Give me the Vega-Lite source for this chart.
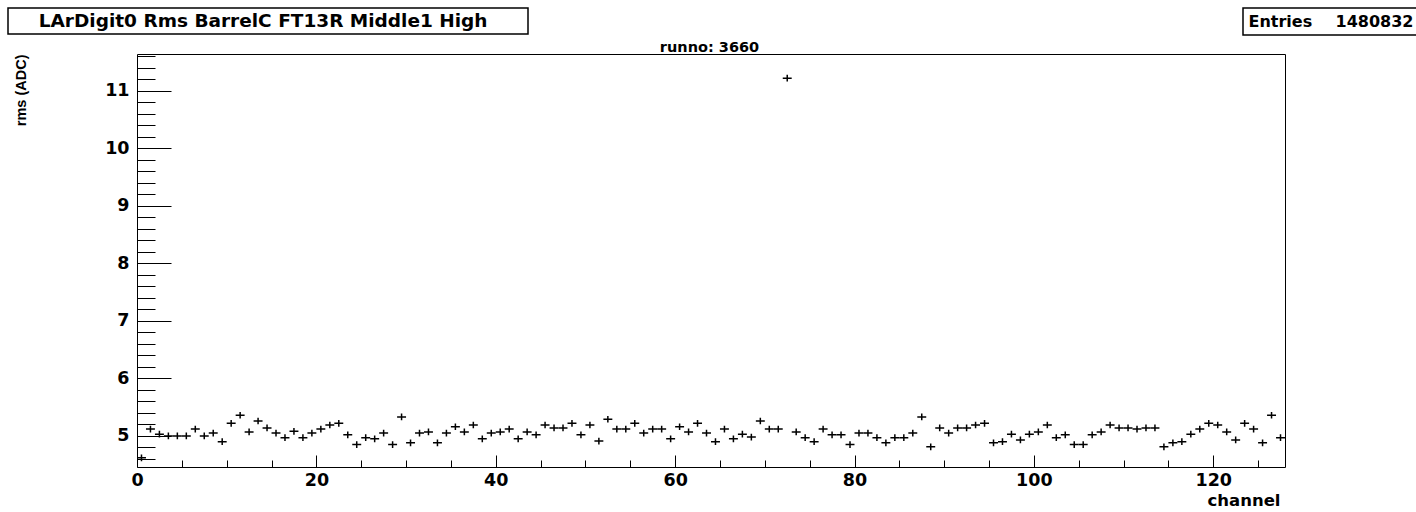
{
  "$schema": "https://vega.github.io/schema/vega-lite/v6.json",
  "width": 1148,
  "height": 413,
  "autosize": {"type": "none"},
  "padding": {"left": 137, "top": 54, "right": 131, "bottom": 45},
  "background": "white",
  "config": {
    "view": {"stroke": "black", "strokeWidth": 1},
    "font": "DejaVu Sans",
    "axis": {
      "domain": false,
      "grid": false,
      "tickColor": "black",
      "tickWidth": 1,
      "labelColor": "black",
      "titleColor": "black",
      "labelFont": "DejaVu Sans",
      "titleFont": "DejaVu Sans",
      "labelFontWeight": "bold",
      "titleFontWeight": "bold"
    },
    "legend": {"strokeWidth": 1.5}
  },
  "datasets": {
    "hist": [
      {"channel": 0, "rms": 4.62}, {"channel": 1, "rms": 5.12}, {"channel": 2, "rms": 5.03}, {"channel": 3, "rms": 5.0},
      {"channel": 4, "rms": 5.0}, {"channel": 5, "rms": 5.0}, {"channel": 6, "rms": 5.12}, {"channel": 7, "rms": 5.0},
      {"channel": 8, "rms": 5.05}, {"channel": 9, "rms": 4.9}, {"channel": 10, "rms": 5.22}, {"channel": 11, "rms": 5.36},
      {"channel": 12, "rms": 5.07}, {"channel": 13, "rms": 5.26}, {"channel": 14, "rms": 5.14}, {"channel": 15, "rms": 5.05},
      {"channel": 16, "rms": 4.97}, {"channel": 17, "rms": 5.08}, {"channel": 18, "rms": 4.97}, {"channel": 19, "rms": 5.05},
      {"channel": 20, "rms": 5.12}, {"channel": 21, "rms": 5.19}, {"channel": 22, "rms": 5.22}, {"channel": 23, "rms": 5.02},
      {"channel": 24, "rms": 4.85}, {"channel": 25, "rms": 4.97}, {"channel": 26, "rms": 4.95}, {"channel": 27, "rms": 5.05},
      {"channel": 28, "rms": 4.85}, {"channel": 29, "rms": 5.33}, {"channel": 30, "rms": 4.88}, {"channel": 31, "rms": 5.05},
      {"channel": 32, "rms": 5.07}, {"channel": 33, "rms": 4.88}, {"channel": 34, "rms": 5.05}, {"channel": 35, "rms": 5.16},
      {"channel": 36, "rms": 5.07}, {"channel": 37, "rms": 5.19}, {"channel": 38, "rms": 4.95}, {"channel": 39, "rms": 5.05},
      {"channel": 40, "rms": 5.07}, {"channel": 41, "rms": 5.12}, {"channel": 42, "rms": 4.95}, {"channel": 43, "rms": 5.07},
      {"channel": 44, "rms": 5.02}, {"channel": 45, "rms": 5.19}, {"channel": 46, "rms": 5.14}, {"channel": 47, "rms": 5.14},
      {"channel": 48, "rms": 5.22}, {"channel": 49, "rms": 5.02}, {"channel": 50, "rms": 5.19}, {"channel": 51, "rms": 4.91},
      {"channel": 52, "rms": 5.29}, {"channel": 53, "rms": 5.12}, {"channel": 54, "rms": 5.12}, {"channel": 55, "rms": 5.22},
      {"channel": 56, "rms": 5.05}, {"channel": 57, "rms": 5.12}, {"channel": 58, "rms": 5.12}, {"channel": 59, "rms": 4.95},
      {"channel": 60, "rms": 5.16}, {"channel": 61, "rms": 5.07}, {"channel": 62, "rms": 5.22}, {"channel": 63, "rms": 5.05},
      {"channel": 64, "rms": 4.9}, {"channel": 65, "rms": 5.12}, {"channel": 66, "rms": 4.95}, {"channel": 67, "rms": 5.03},
      {"channel": 68, "rms": 4.98}, {"channel": 69, "rms": 5.26}, {"channel": 70, "rms": 5.12}, {"channel": 71, "rms": 5.12},
      {"channel": 72, "rms": 11.22}, {"channel": 73, "rms": 5.07}, {"channel": 74, "rms": 4.97}, {"channel": 75, "rms": 4.9},
      {"channel": 76, "rms": 5.12}, {"channel": 77, "rms": 5.02}, {"channel": 78, "rms": 5.02}, {"channel": 79, "rms": 4.85},
      {"channel": 80, "rms": 5.05}, {"channel": 81, "rms": 5.05}, {"channel": 82, "rms": 4.97}, {"channel": 83, "rms": 4.88},
      {"channel": 84, "rms": 4.97}, {"channel": 85, "rms": 4.97}, {"channel": 86, "rms": 5.05}, {"channel": 87, "rms": 5.33},
      {"channel": 88, "rms": 4.81}, {"channel": 89, "rms": 5.14}, {"channel": 90, "rms": 5.05}, {"channel": 91, "rms": 5.14},
      {"channel": 92, "rms": 5.14}, {"channel": 93, "rms": 5.19}, {"channel": 94, "rms": 5.22}, {"channel": 95, "rms": 4.88},
      {"channel": 96, "rms": 4.9}, {"channel": 97, "rms": 5.03}, {"channel": 98, "rms": 4.93}, {"channel": 99, "rms": 5.03},
      {"channel": 100, "rms": 5.07}, {"channel": 101, "rms": 5.19}, {"channel": 102, "rms": 4.97}, {"channel": 103, "rms": 5.02},
      {"channel": 104, "rms": 4.85}, {"channel": 105, "rms": 4.85}, {"channel": 106, "rms": 5.02}, {"channel": 107, "rms": 5.07},
      {"channel": 108, "rms": 5.19}, {"channel": 109, "rms": 5.14}, {"channel": 110, "rms": 5.14}, {"channel": 111, "rms": 5.12},
      {"channel": 112, "rms": 5.14}, {"channel": 113, "rms": 5.14}, {"channel": 114, "rms": 4.81}, {"channel": 115, "rms": 4.88},
      {"channel": 116, "rms": 4.9}, {"channel": 117, "rms": 5.03}, {"channel": 118, "rms": 5.12}, {"channel": 119, "rms": 5.22},
      {"channel": 120, "rms": 5.19}, {"channel": 121, "rms": 5.07}, {"channel": 122, "rms": 4.93}, {"channel": 123, "rms": 5.22},
      {"channel": 124, "rms": 5.12}, {"channel": 125, "rms": 4.88}, {"channel": 126, "rms": 5.36}, {"channel": 127, "rms": 4.97}
    ],
    "info": [
      {"histogram": "LArDigit0 Rms BarrelC FT13R Middle1 High", "entries": 1480832}
    ]
  },
  "layer": [
    {
      "data": {"name": "hist"},
      "mark": {
        "type": "point",
        "shape": "M-1,0L1,0M0,-0.75L0,0.75",
        "size": 80,
        "filled": false,
        "stroke": "black",
        "strokeWidth": 1.5,
        "opacity": 1,
        "xOffset": 4.48
      },
      "encoding": {
        "x": {
          "field": "channel",
          "type": "quantitative",
          "scale": {"domain": [0, 128], "nice": false, "zero": false},
          "axis": {
            "orient": "bottom",
            "values": [0, 20, 40, 60, 80, 100, 120],
            "ticks": false,
            "tickSize": 0,
            "labelPadding": 4,
            "labelFontSize": 17.5,
            "labelFlush": false,
            "labelOverlap": false,
            "title": "channel",
            "titleFontSize": 16.5,
            "titleAnchor": "end",
            "titleAlign": "right",
            "titleBaseline": "alphabetic",
            "titleX": 1143,
            "titleY": 38
          }
        },
        "y": {
          "field": "rms",
          "type": "quantitative",
          "scale": {"domain": [4.46, 11.64], "nice": false, "zero": false},
          "axis": {
            "orient": "left",
            "values": [5, 6, 7, 8, 9, 10, 11],
            "ticks": false,
            "tickSize": 0,
            "labelPadding": 8,
            "labelFontSize": 17.5,
            "labelFlush": false,
            "labelOverlap": false,
            "title": "rms (ADC)",
            "titleFont": "Liberation Sans",
            "titleFontSize": 14.5,
            "titleAngle": 270,
            "titleAlign": "right",
            "titleBaseline": "alphabetic",
            "titleX": -112,
            "titleY": 0
          }
        }
      }
    },
    {
      "data": {"name": "hist"},
      "mark": {"type": "point", "opacity": 0},
      "encoding": {
        "x": {
          "field": "channel",
          "type": "quantitative",
          "scale": {"domain": [0, 128], "nice": false, "zero": false},
          "axis": {
            "orient": "bottom",
            "values": [0, 20, 40, 60, 80, 100, 120],
            "labels": false,
            "ticks": true,
            "tickSize": -12,
            "title": null
          }
        },
        "y": {
          "field": "rms",
          "type": "quantitative",
          "scale": {"domain": [4.46, 11.64], "nice": false, "zero": false},
          "axis": {
            "orient": "left",
            "values": [5, 6, 7, 8, 9, 10, 11],
            "labels": false,
            "ticks": true,
            "tickSize": -34,
            "title": null
          }
        }
      }
    },
    {
      "data": {"name": "hist"},
      "mark": {"type": "point", "opacity": 0},
      "encoding": {
        "x": {
          "field": "channel",
          "type": "quantitative",
          "scale": {"domain": [0, 128], "nice": false, "zero": false},
          "axis": {
            "orient": "bottom",
            "values": [5, 10, 15, 25, 30, 35, 45, 50, 55, 65, 70, 75, 85, 90, 95, 105, 110, 115, 125],
            "labels": false,
            "ticks": true,
            "tickSize": -7,
            "title": null
          }
        },
        "y": {
          "field": "rms",
          "type": "quantitative",
          "scale": {"domain": [4.46, 11.64], "nice": false, "zero": false},
          "axis": {
            "orient": "left",
            "values": [4.6, 4.8, 5.2, 5.4, 5.6, 5.8, 6.2, 6.4, 6.6, 6.8, 7.2, 7.4, 7.6, 7.8, 8.2, 8.4, 8.6, 8.8, 9.2, 9.4, 9.6, 9.8, 10.2, 10.4, 10.6, 10.8, 11.2, 11.4, 11.6],
            "labels": false,
            "ticks": true,
            "tickSize": -18,
            "title": null
          }
        }
      }
    },
    {
      "data": {"name": "hist"},
      "mark": {"type": "point", "opacity": 0},
      "encoding": {
        "x": {
          "field": "channel",
          "type": "quantitative",
          "scale": {"domain": [0, 128], "nice": false, "zero": false},
          "axis": {
            "orient": "top",
            "labels": false,
            "ticks": false,
            "title": "runno: 3660",
            "titleFontSize": 14.5,
            "titleAnchor": "middle",
            "titleAlign": "center",
            "titleBaseline": "alphabetic",
            "titleX": 572,
            "titleY": -3
          }
        }
      }
    },
    {
      "data": {"name": "info"},
      "mark": {"type": "point", "opacity": 0},
      "encoding": {
        "color": {
          "field": "histogram",
          "type": "nominal",
          "scale": {"range": ["black"]},
          "legend": {
            "orient": "none",
            "legendX": -129,
            "legendY": -46,
            "title": " ",
            "titleOrient": "right",
            "titlePadding": 37,
            "titleFontSize": 18.5,
            "strokeColor": "black",
            "fillColor": "white",
            "padding": 3.25,
            "cornerRadius": 0,
            "symbolSize": 0,
            "symbolOpacity": 0,
            "symbolStrokeWidth": 0,
            "labelOffset": 9,
            "labelFont": "DejaVu Sans",
            "labelFontSize": 18.5,
            "labelFontWeight": "bold",
            "labelColor": "black",
            "labelLimit": 700
          }
        },
        "shape": {
          "field": "entries",
          "type": "nominal",
          "scale": {"range": ["circle"]},
          "legend": {
            "orient": "none",
            "legendX": 1106,
            "legendY": -46,
            "title": "Entries",
            "titleOrient": "left",
            "titlePadding": 7,
            "titleFont": "DejaVu Sans",
            "titleFontSize": 16,
            "titleFontWeight": "bold",
            "titleColor": "black",
            "titleBaseline": "middle",
            "strokeColor": "black",
            "fillColor": "white",
            "padding": 5.5,
            "cornerRadius": 0,
            "symbolSize": 0,
            "symbolOpacity": 0,
            "symbolStrokeWidth": 0,
            "labelOffset": 0,
            "labelFont": "DejaVu Sans",
            "labelFontSize": 16,
            "labelFontWeight": "bold",
            "labelColor": "black",
            "labelLimit": 300
          }
        }
      }
    }
  ],
  "resolve": {"axis": {"x": "independent", "y": "independent"}}
}
